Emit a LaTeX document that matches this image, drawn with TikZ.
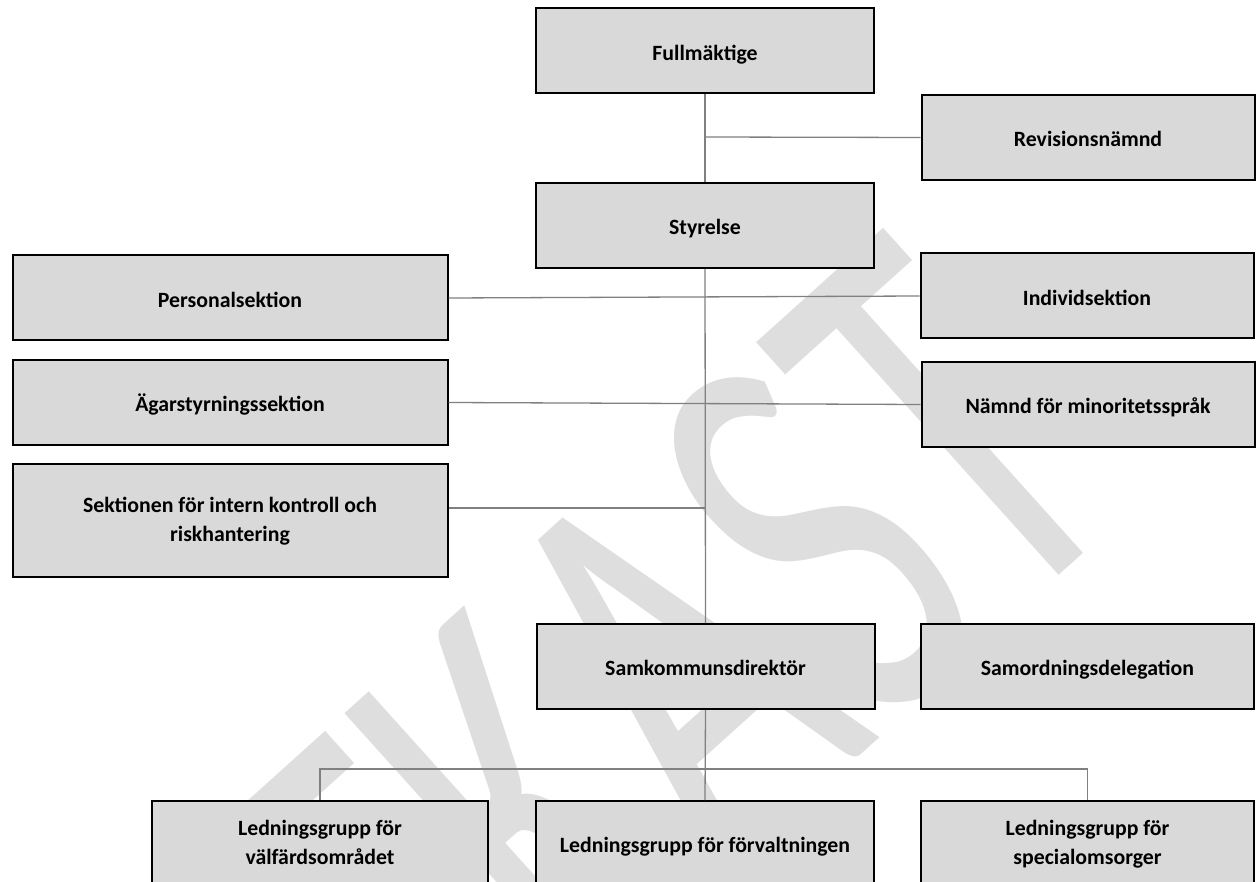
\documentclass[tikz,border=0pt]{standalone}
\usepackage{fontspec}
\setmainfont{Carlito}
\newfontfamily\wmfont{Carlito}
\newcommand\tstrut{\rule[-8.7pt]{0pt}{36pt}}
\newcommand\twostrut{\rule[-8.7pt]{0pt}{31pt}}
\definecolor{boxfill}{HTML}{D9D9D9}
\definecolor{conn}{HTML}{808080}
\definecolor{wm}{HTML}{DEDEDE}
\tikzset{
  orgbox/.style={draw=black, line width=2pt, fill=boxfill, inner sep=0pt,
    align=center, font=\bfseries\fontsize{21.8}{29}\selectfont},
  wbox/.style={orgbox, minimum width=338pt, minimum height=85pt},
  lbox/.style={orgbox, minimum width=435pt, minimum height=85pt},
  rbox/.style={orgbox, minimum width=333pt, minimum height=85pt},
  connector/.style={draw=conn, line width=1.3pt}
}
\begin{document}
\begin{tikzpicture}[x=1pt,y=-1pt]
\useasboundingbox (0,0) rectangle (1258,882);
\clip (0,0) rectangle (1258,882);
\fill[white] (0,0) rectangle (1258,882);
% watermark
\node[rotate=42, anchor=base east, inner sep=0pt, text=wm] (wmark) at (1138,505)
  {\scalebox{0.63}[1]{\wmfont\fontsize{585}{585}\selectfont UTKAST}};
% boxes
\node[wbox] (full) at (705,51) {\tstrut Fullmäktige};
\node[rbox] (rev) at (1088,137.5) {\tstrut Revisionsnämnd};
\node[wbox] (sty) at (705,225.5) {\tstrut Styrelse};
\node[lbox] (pers) at (230,298) {\tstrut Personalsektion};
\node[rbox] (ind) at (1087,296) {\tstrut Individsektion};
\node[lbox] (agar) at (230,402.5) {\tstrut Ägarstyrningssektion};
\node[rbox] (namnd) at (1088,404.5) {\tstrut Nämnd för minoritetsspråk};
\node[lbox, minimum height=113pt] (sekt) at (230,520.5) {\twostrut Sektionen för intern kontroll och\\\strut riskhantering};
\node[wbox] (samk) at (705.5,666.5) {\tstrut Samkommunsdirektör};
\node[rbox] (samo) at (1087.5,666) {\tstrut Samordningsdelegation};
\node[orgbox, minimum width=336pt, minimum height=85pt] (lv) at (320,843.5) {\twostrut Ledningsgrupp för\\\strut välfärdsområdet};
\node[wbox] (lf) at (705,843.5) {\tstrut Ledningsgrupp för förvaltningen};
\node[orgbox, minimum width=333pt, minimum height=85pt] (ls) at (1087.5,843.5) {\twostrut Ledningsgrupp för\\\strut specialomsorger};
\coordinate (revj) at (706,137);
\coordinate (sektj) at (706,508);
\coordinate (bus) at (706,769);
% connectors
\draw[connector] (full.south) -- (sty.north);
\draw[connector] (full.south |- revj) -- (rev.west);
\draw[connector] (sty.south) -- (samk.north);
\draw[connector] (pers.east) -- (ind.west);
\draw[connector] (agar.east) -- (namnd.west);
\draw[connector] (sekt.east |- sektj) -- (sektj);
\draw[connector] (samk.south) -- (lf.north);
\draw[connector] (lv.north) -- (lv.north |- bus) -- (ls.north |- bus) -- (ls.north);
\end{tikzpicture}
\end{document}
